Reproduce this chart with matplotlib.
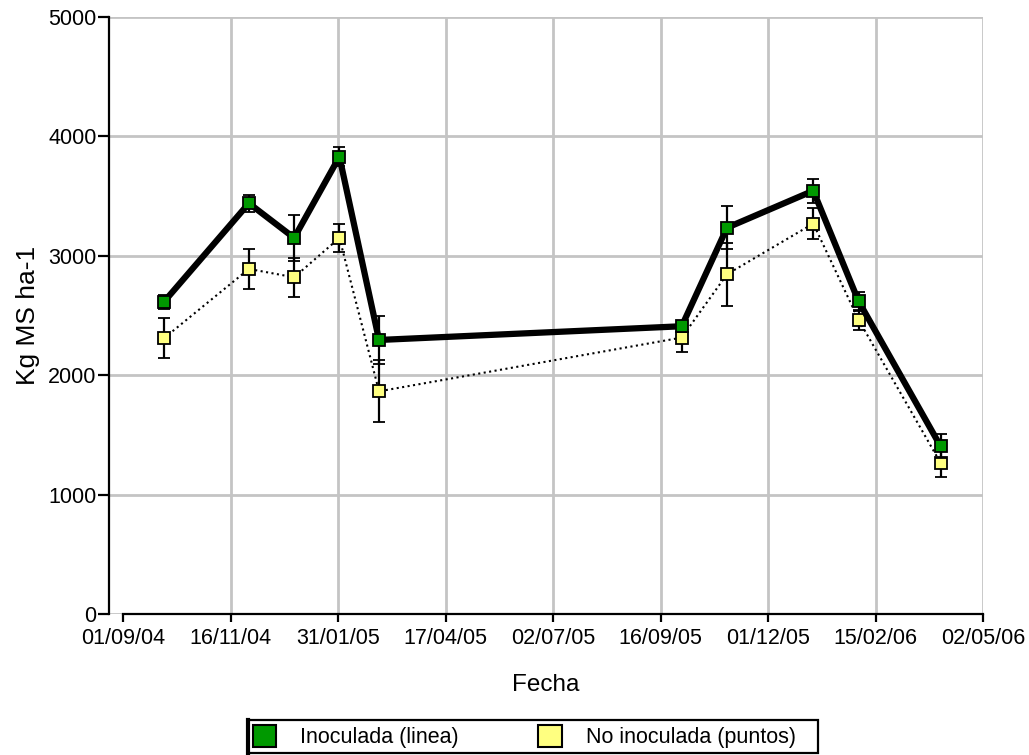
import datetime as dt

import matplotlib
matplotlib.use("Agg")
import matplotlib.pyplot as plt
import matplotlib.dates as mdates
from matplotlib.patches import Patch, Rectangle

plt.rcParams["font.family"] = ["Liberation Sans", "DejaVu Sans"]

# Kg MS ha-1 por fecha de corte
fechas = [dt.date(2004, 9, 30), dt.date(2004, 11, 29), dt.date(2004, 12, 31),
          dt.date(2005, 2, 1), dt.date(2005, 3, 1), dt.date(2005, 10, 1),
          dt.date(2005, 11, 2), dt.date(2006, 1, 2), dt.date(2006, 2, 3),
          dt.date(2006, 4, 2)]
inoculada = [2615, 3440, 3150, 3830, 2295, 2410, 3235, 3545, 2620, 1405]
inoculada_err = [60, 70, 190, 80, 205, 45, 180, 100, 80, 100]
no_inoculada = [2310, 2890, 2820, 3150, 1865, 2315, 2845, 3270, 2465, 1265]
no_inoculada_err = [165, 165, 165, 120, 260, 120, 265, 130, 85, 115]

tick_fechas = [dt.date(2004, 9, 1), dt.date(2004, 11, 16), dt.date(2005, 1, 31),
               dt.date(2005, 4, 17), dt.date(2005, 7, 2), dt.date(2005, 9, 16),
               dt.date(2005, 12, 1), dt.date(2006, 2, 15), dt.date(2006, 5, 2)]
y_ticks = [0, 1000, 2000, 3000, 4000, 5000]

W, H = 1029, 755
fig = plt.figure(figsize=(W / 100, H / 100), dpi=100)
ax = fig.add_axes([109 / W, 141 / H, (983 - 109) / W, 597 / H])

# eje x desplazado: el eje y queda 14 px a la izquierda del primer tick
x0 = mdates.date2num(tick_fechas[0])
x1 = mdates.date2num(tick_fechas[-1])
px_per_day = (983 - 123) / (x1 - x0)
ax.set_xlim(x0 - 14 / px_per_day, x1)
ax.set_ylim(0, 5000)

grid_color = "#c4c4c4"
ax.set_yticks(y_ticks)
ax.yaxis.grid(True, color=grid_color, lw=2)
for f in tick_fechas[1:]:
    ax.axvline(f, color=grid_color, lw=2, zorder=0)
ax.set_axisbelow(True)

ax.errorbar(fechas, no_inoculada, yerr=no_inoculada_err, fmt="s", ls=":",
            color="black", lw=1.5, mfc="#ffff80", mec="black", ms=8, mew=1.3,
            ecolor="black", elinewidth=1.6, capsize=4, capthick=1.6, zorder=3)
ax.errorbar(fechas, inoculada, yerr=inoculada_err, fmt="s", ls="-",
            color="black", lw=4.5, mfc="#009900", mec="black", ms=8, mew=1.3,
            ecolor="black", elinewidth=1.6, capsize=4, capthick=1.6, zorder=4)

ax.set_xticks([mdates.date2num(f) for f in tick_fechas])
ax.xaxis.set_major_formatter(mdates.DateFormatter("%d/%m/%y"))

for side in ["top", "right"]:
    ax.spines[side].set_visible(False)
ax.spines["left"].set_linewidth(1.6)
ax.spines["bottom"].set_linewidth(1.6)
ax.spines["bottom"].set_bounds(x0, x1)
ax.tick_params(axis="y", length=8, width=1.6, labelsize=15.5, pad=1)
ax.tick_params(axis="x", length=6, width=1.6, labelsize=15.5, pad=4)

ax.set_xlabel("Fecha", fontsize=17.5, labelpad=18)
ax.set_ylabel("Kg MS ha-1", fontsize=19, labelpad=6)

# leyenda inferior con marco propio
handles = [Patch(facecolor="#009900", edgecolor="black", lw=1.5),
           Patch(facecolor="#ffff80", edgecolor="black", lw=1.5)]
fig.legend(handles, ["Inoculada (linea)", "No inoculada (puntos)"],
           ncol=2, loc="center left", bbox_to_anchor=(250 / W, 1 - 736.5 / H),
           borderaxespad=0, fontsize=15.5, frameon=False,
           handlelength=1.1, handleheight=1.25, handletextpad=1.1,
           columnspacing=3.7, borderpad=0.12)
fig.patches.append(Rectangle((248 / W, 2 / H), 570 / W, 33 / H,
                             transform=fig.transFigure, fill=False,
                             ec="black", lw=1.6))
fig.add_artist(plt.Line2D([248 / W, 248 / W], [2 / H, 35 / H],
                          transform=fig.transFigure, color="black", lw=3))

fig.savefig("out.png", dpi=100)
